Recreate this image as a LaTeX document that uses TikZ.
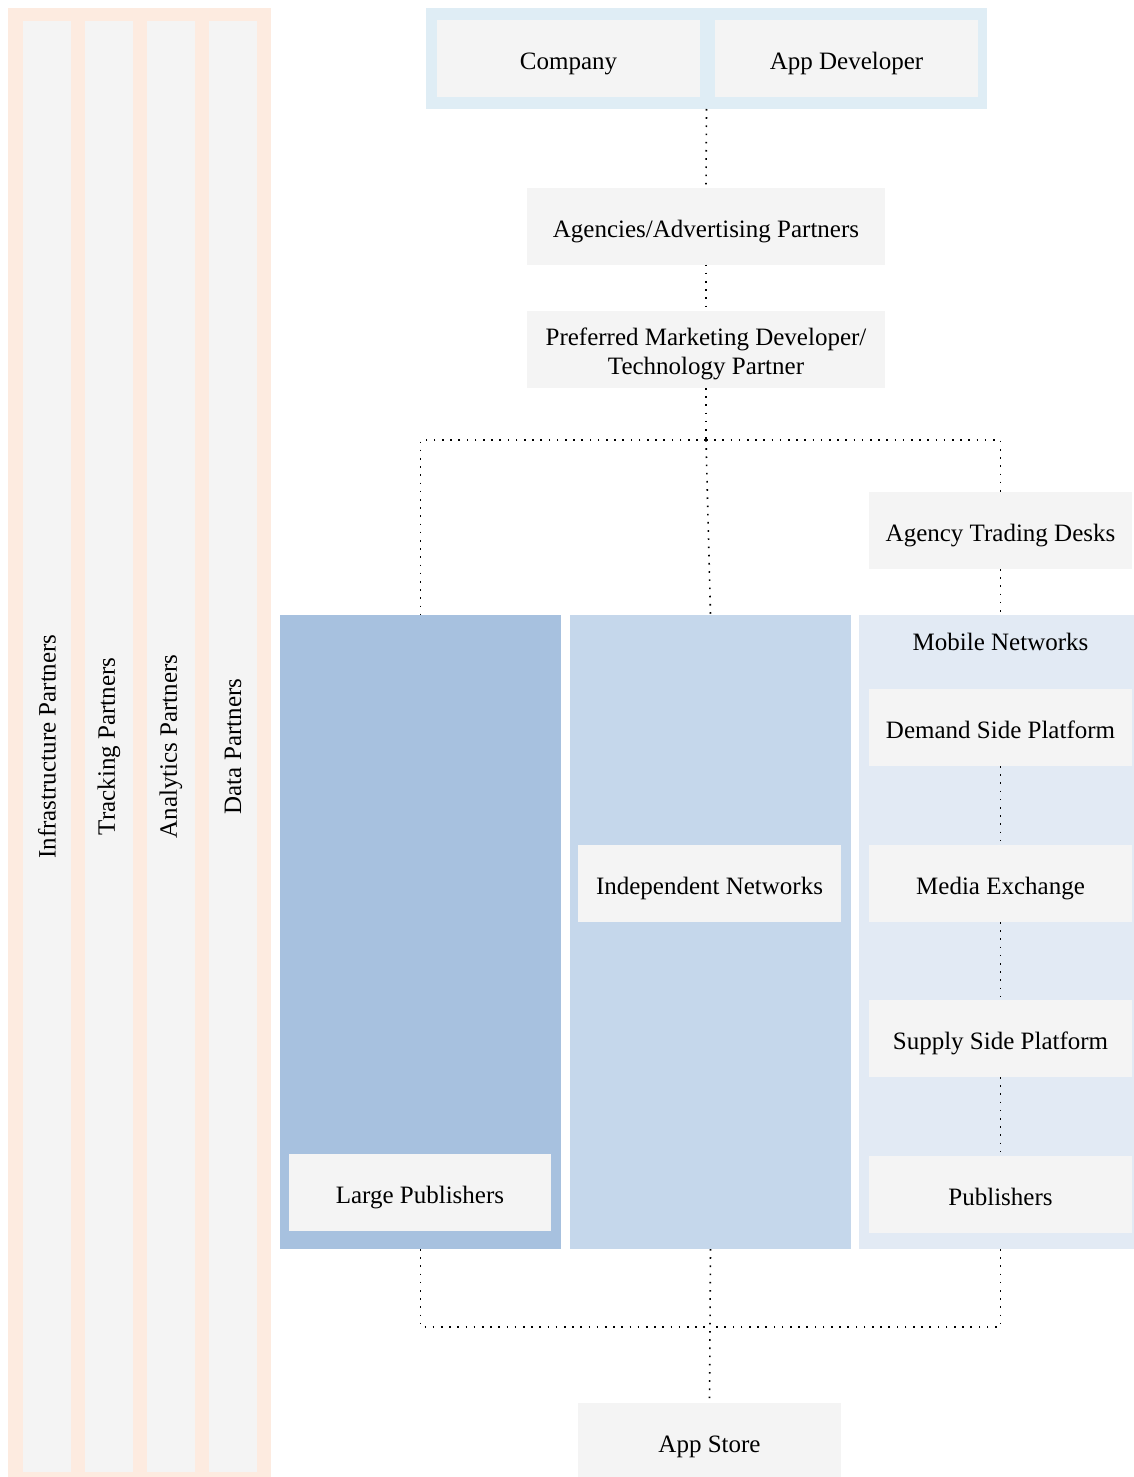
\documentclass[tikz,border=0pt]{standalone}
\usepackage{fontspec}
\setmainfont{Liberation Serif}
\definecolor{peach}{HTML}{FDEBE0}
\definecolor{boxgrey}{HTML}{F4F4F4}
\definecolor{topblue}{HTML}{DFEDF5}
\definecolor{colA}{HTML}{A7C1DF}
\definecolor{colB}{HTML}{C5D7EB}
\definecolor{colC}{HTML}{E2EAF4}
\begin{document}
\begin{tikzpicture}[x=1pt,y=-1pt,
  every node/.style={inner sep=0pt, outer sep=0pt, font=\fontsize{25}{29}\selectfont, align=center},
  box/.style={fill=boxgrey, minimum width=263pt, minimum height=77pt, text height=27pt, text depth=5pt},
  widebox/.style={fill=boxgrey, minimum width=358pt, minimum height=77pt, text height=27pt, text depth=5pt},
  partcol/.style={fill=boxgrey, rotate=90, minimum width=1451pt, minimum height=48pt},
  column/.style={minimum width=281pt, minimum height=634pt},
  dots/.style={draw=black, line width=1.6pt, dash pattern=on 1.6pt off 6.6pt}]
\useasboundingbox (0,0) rectangle (1134,1477);
% partners panel
\node[fill=peach, minimum width=263pt, minimum height=1469pt] (partners) at (139.5,742.5) {};
\node[partcol] (infra) at (47,746.5) {Infrastructure Partners};
\node[partcol] (track) at (109,746.5) {Tracking Partners};
\node[partcol] (analytics) at (171,746.5) {Analytics Partners};
\node[partcol] (data) at (233,746.5) {Data Partners};
% top
\node[fill=topblue, minimum width=561pt, minimum height=101pt] (topframe) at (706.5,58.5) {};
\node[box] (company) at (568.5,58.5) {Company};
\node[box] (appdev) at (846.5,58.5) {App Developer};
\node[widebox] (agencies) at (706,226) {Agencies/Advertising Partners};
\node[fill=boxgrey, minimum width=358pt, minimum height=77pt] (pmd) at (706,349.5) {};
\node (pmdtext) at (706,353.5) {Preferred Marketing Developer/\\Technology Partner};
\node[box] (atd) at (1000.5,530.5) {Agency Trading Desks};
% columns
\node[column, fill=colA] (lpcol) at (420.5,932) {};
\node[column, fill=colB] (incol) at (710.5,932) {};
\node[column, fill=colC, minimum width=275pt] (mncol) at (996.5,932) {};
\node (mn) at (1000.5,642) {Mobile Networks};
\node[box] (dsp) at (1000.5,727.5) {Demand Side Platform};
\node[box] (mex) at (1000.5,883.5) {Media Exchange};
\node[box] (ssp) at (1000.5,1038.5) {Supply Side Platform};
\node[box] (pub) at (1000.5,1194.5) {Publishers};
\node[box] (indep) at (709.5,883) {Independent Networks};
\node[box, minimum width=262pt] (large) at (420,1192.5) {Large Publishers};
\node[box] (appstore) at (709.5,1441) {App Store};
% connectors
\coordinate (j1) at (706,440);
\coordinate (j2) at (710,1327);
\draw[dots] (topframe.south) -- (agencies.north);
\draw[dots] (agencies.south) -- (pmd.north);
\draw[dots] (pmd.south) -- (j1);
\draw[dots] (j1) -| (lpcol.north);
\draw[dots] (j1) -| (atd.north);
\draw[dots] (j1) -- (incol.north);
\draw[dots] (atd.south) -- ([xshift=4pt]mncol.north);
\draw[dots] (dsp) -- (mex);
\draw[dots] (mex) -- (ssp);
\draw[dots] (ssp) -- (pub);
\draw[dots] (lpcol.south) |- (j2);
\draw[dots] ([xshift=4pt]mncol.south) |- (j2);
\draw[dots] (incol.south) -- (appstore.north);
\end{tikzpicture}
\end{document}
